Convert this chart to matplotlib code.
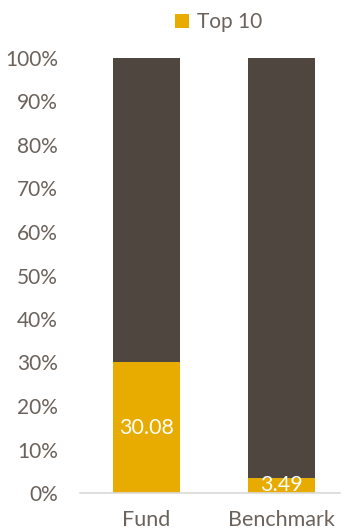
import matplotlib.pyplot as plt
from matplotlib.ticker import PercentFormatter

categorias = ['Fund', 'Benchmark']
top10 = [30.08, 3.49]
resto = [100 - v for v in top10]

color_oro = '#E8AC00'
color_oscuro = '#4F4640'
color_texto = '#6B625B'

plt.rcParams['font.family'] = ['Lato', 'DejaVu Sans']

fig = plt.figure(figsize=(3.44, 5.29), dpi=100)
ax = fig.add_axes([80 / 344, 36 / 529, 260 / 344, 435 / 529])

x = [0, 1]
ax.bar(x, top10, width=0.496, color=color_oro, label='Top 10', zorder=2)
ax.bar(x, resto, bottom=top10, width=0.496, color=color_oscuro, zorder=2)

for xi, v in zip(x, top10):
    ax.text(xi, v / 2, f'{v:.2f}', ha='center', va='center',
            color='white', fontsize=15.5, zorder=3)

ax.set_xlim(-0.493, 1.433)
ax.set_ylim(0, 100)
ax.set_yticks(range(0, 101, 10))
ax.yaxis.set_major_formatter(PercentFormatter(decimals=0))
ax.set_xticks(x)
ax.set_xticklabels(categorias)

for s in ['top', 'right', 'left']:
    ax.spines[s].set_visible(False)
ax.spines['bottom'].set_color('#d9d9d9')
ax.spines['bottom'].set_linewidth(1.2)
ax.spines['bottom'].set_zorder(4)
ax.tick_params(axis='both', length=0, labelsize=15.5, labelcolor=color_texto)
ax.tick_params(axis='y', labelsize=15, pad=16)
ax.tick_params(axis='x', pad=12)

fig.legend(loc='center', bbox_to_anchor=(219 / 344, 1 - 22 / 529), frameon=False,
           fontsize=15, labelcolor=color_texto, handlelength=0.65, handleheight=0.65,
           handletextpad=0.4)

fig.savefig('out.png', dpi=100)
